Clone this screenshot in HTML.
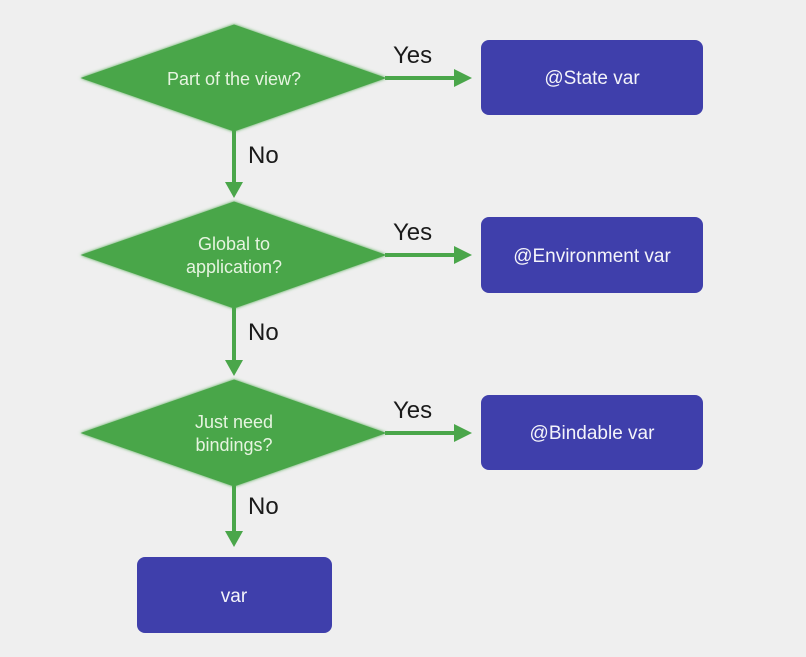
<!DOCTYPE html>
<html><head><meta charset="utf-8"><style>
html,body{margin:0;padding:0;background:#efefef;}
svg{display:block;}
text{font-family:"Liberation Sans",sans-serif;}
</style></head><body>
<svg width="806" height="657" viewBox="0 0 806 657" xmlns="http://www.w3.org/2000/svg">
<defs>
<filter id="g" x="-10%" y="-20%" width="120%" height="140%"><feGaussianBlur stdDeviation="1.5" in="SourceGraphic" result="b"/><feMerge><feMergeNode in="b"/><feMergeNode in="SourceGraphic"/></feMerge></filter>
</defs>
<rect width="806" height="657" fill="#efefef"/>
<g fill="#4aa64a" stroke="#4aa64a">
<!-- diamonds -->
<polygon points="234,25 385,78 234,131 82,78" filter="url(#g)"/>
<polygon points="234,202 385,255 234,308 82,255" filter="url(#g)"/>
<polygon points="234,380 385,433 234,486 82,433" filter="url(#g)"/>
<!-- vertical lines -->
<g stroke-width="4">
<line x1="234" y1="131" x2="234" y2="184"/>
<line x1="234" y1="308" x2="234" y2="362"/>
<line x1="234" y1="486" x2="234" y2="533"/>
<line x1="385" y1="78" x2="456" y2="78"/>
<line x1="385" y1="255" x2="456" y2="255"/>
<line x1="385" y1="433" x2="456" y2="433"/>
</g>
<g stroke="none">
<polygon points="225,182 243,182 234,198"/>
<polygon points="225,360 243,360 234,376"/>
<polygon points="225,531 243,531 234,547"/>
<polygon points="454,69 454,87 472,78"/>
<polygon points="454,246 454,264 472,255"/>
<polygon points="454,424 454,442 472,433"/>
</g>
</g>
<g fill="#3f3fab">
<rect x="481" y="40" width="222" height="75" rx="8"/>
<rect x="481" y="217" width="222" height="76" rx="8"/>
<rect x="481" y="395" width="222" height="75" rx="8"/>
<rect x="137" y="557" width="195" height="76" rx="8"/>
</g>
<g fill="#e6f4e0" font-size="18" text-anchor="middle">
<text x="234" y="85">Part of the view?</text>
<text x="234" y="250">Global to</text>
<text x="234" y="273">application?</text>
<text x="234" y="428">Just need</text>
<text x="234" y="451">bindings?</text>
</g>
<g fill="#f4f4fa" font-size="19" text-anchor="middle">
<text x="592" y="84">@State var</text>
<text x="592" y="262">@Environment var</text>
<text x="592" y="439">@Bindable var</text>
<text x="234" y="602">var</text>
</g>
<g fill="#1a1a1a" font-size="24">
<text x="393" y="63">Yes</text>
<text x="393" y="240">Yes</text>
<text x="393" y="418">Yes</text>
<text x="248" y="163">No</text>
<text x="248" y="340">No</text>
<text x="248" y="514">No</text>
</g>
</svg>
</body></html>
